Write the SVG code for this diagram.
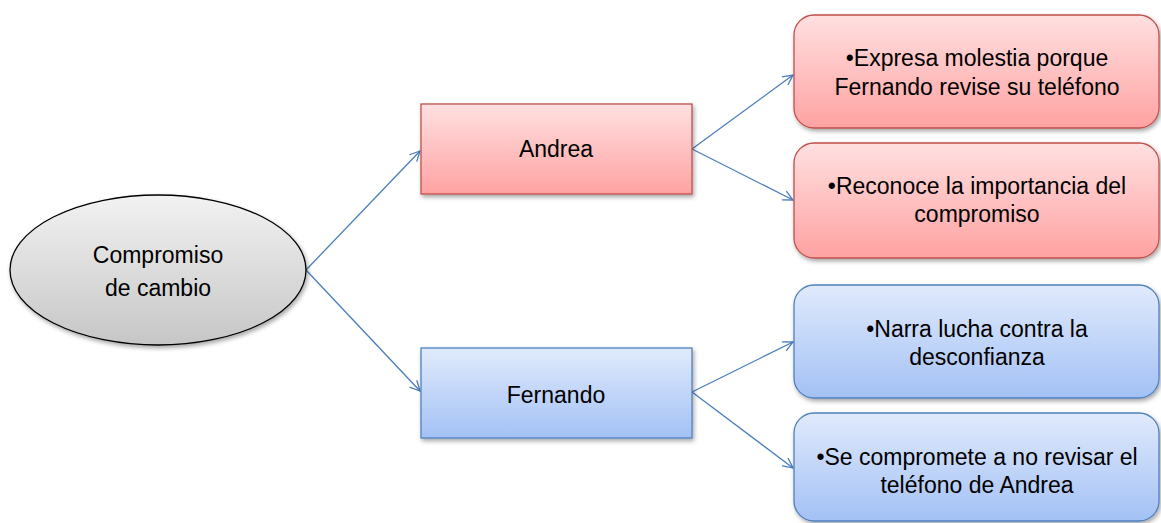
<svg xmlns="http://www.w3.org/2000/svg" width="1161" height="523" viewBox="0 0 1161 523">
<style>
.t{font-family:"Liberation Sans",Arial,sans-serif;font-size:23px;fill:#000;text-anchor:middle}
.red{fill:url(#gr);stroke:#C0504D;stroke-width:1.3}
.blue{fill:url(#gb);stroke:#4F81BD;stroke-width:1.3}
.c{fill:none;stroke:#4A7EBB;stroke-width:1.3;marker-end:url(#ah)}
</style>
<defs>
<linearGradient id="gr" x1="0" y1="0" x2="0" y2="1"><stop offset="0" stop-color="#FFE0E0"/><stop offset="1" stop-color="#FFA2A2"/></linearGradient>
<linearGradient id="gb" x1="0" y1="0" x2="0" y2="1"><stop offset="0" stop-color="#E0EAFC"/><stop offset="1" stop-color="#A3C1F5"/></linearGradient>
<linearGradient id="gg" x1="0" y1="0" x2="0" y2="1"><stop offset="0" stop-color="#F2F2F2"/><stop offset="1" stop-color="#C6C6C6"/></linearGradient>
<filter id="sh" x="-10%" y="-10%" width="120%" height="130%"><feDropShadow dx="1.5" dy="2.5" stdDeviation="2" flood-color="#000" flood-opacity="0.35"/></filter>
<marker id="ah" viewBox="0 0 12 12" refX="11" refY="6" markerWidth="12" markerHeight="12" markerUnits="userSpaceOnUse" orient="auto"><path d="M1,1 L11,6 L1,11" fill="none" stroke="#4A7EBB" stroke-width="1.3"/></marker>
</defs>
<g id="connectors">
<line class="c" x1="306" y1="270" x2="420" y2="151"/>
<line class="c" x1="306" y1="270" x2="420" y2="391"/>
<line class="c" x1="692" y1="149" x2="793" y2="75"/>
<line class="c" x1="692" y1="149" x2="793" y2="200"/>
<line class="c" x1="692" y1="392" x2="793" y2="342"/>
<line class="c" x1="692" y1="392" x2="793" y2="468"/>
</g>
<g id="root">
<ellipse cx="158" cy="270" rx="148" ry="75" fill="url(#gg)" stroke="#000" stroke-width="1.3" filter="url(#sh)"/>
<text class="t" x="158" y="263">Compromiso</text>
<text class="t" x="158" y="296">de cambio</text>
</g>
<g id="andrea">
<rect class="red" x="421" y="104" width="271" height="90" filter="url(#sh)"/>
<text class="t" x="556" y="157">Andrea</text>
</g>
<g id="fernando">
<rect class="blue" x="421" y="348" width="271" height="90" filter="url(#sh)"/>
<text class="t" x="556" y="403">Fernando</text>
</g>
<g id="a1">
<rect class="red" x="794" y="15" width="365" height="113" rx="20" filter="url(#sh)"/>
<text class="t" x="977" y="66">•Expresa molestia porque</text>
<text class="t" x="977" y="95">Fernando revise su teléfono</text>
</g>
<g id="a2">
<rect class="red" x="794" y="143" width="365" height="115" rx="20" filter="url(#sh)"/>
<text class="t" x="977" y="194">•Reconoce la importancia del</text>
<text class="t" x="977" y="222">compromiso</text>
</g>
<g id="f1">
<rect class="blue" x="794" y="285" width="365" height="113" rx="20" filter="url(#sh)"/>
<text class="t" x="977" y="337">•Narra lucha contra la</text>
<text class="t" x="977" y="365">desconfianza</text>
</g>
<g id="f2">
<rect class="blue" x="794" y="413" width="365" height="108" rx="20" filter="url(#sh)"/>
<text class="t" x="977" y="465">•Se compromete a no revisar el</text>
<text class="t" x="977" y="493">teléfono de Andrea</text>
</g>
</svg>
